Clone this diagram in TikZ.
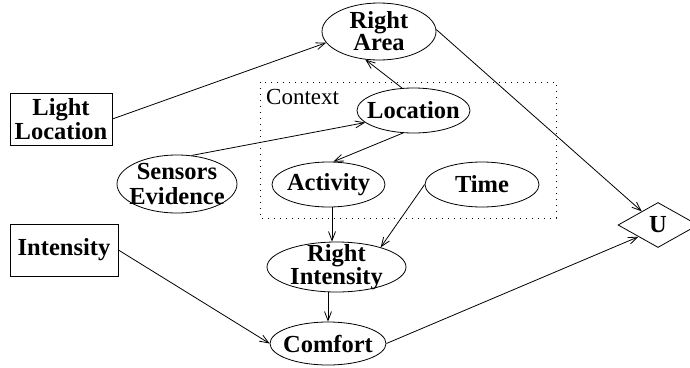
\documentclass[tikz,border=0pt]{standalone}
\usepackage{fontspec}
\setmainfont{Liberation Serif}
\usetikzlibrary{shapes.geometric,arrows.meta}
\begin{document}
\begin{tikzpicture}[x=1pt,y=-1pt,
  every node/.style={inner sep=0pt},
  ell/.style={draw, ellipse, line width=0.8pt},
  lbl/.style={font=\bfseries\fontsize{24.5}{#1}\selectfont, align=center},
  box/.style={draw, rectangle, line width=0.8pt, align=center, font=\bfseries\fontsize{24.5}{21}\selectfont},
  arr/.style={line width=0.8pt, -{Straight Barb[length=9pt,width=7pt]}},
  ctx/.style={line width=0.8pt, dash pattern=on 1pt off 5pt}]
\useasboundingbox (0,0) rectangle (690,367);
% context frame
\draw[ctx] (260,82) rectangle (556,218);
\node[anchor=base west, font=\fontsize{23}{23}\selectfont] (ctxlbl) at (266,104) {Context};
% nodes
\node[box, minimum width=102, minimum height=52] (LL) at (61,119) {Light\\Location};
\node[box, minimum width=108, minimum height=52] (Int) at (64,250) {Intensity};
\node[ell, minimum width=114, minimum height=57, label={[lbl=22]center:Right\\Area}] (RA) at (379,31.5) {};
\node[ell, minimum width=113, minimum height=45, label={[lbl=23]center:Location}] (Loc) at (413.5,110.5) {};
\node[ell, minimum width=120, minimum height=58, label={[lbl=25]center:Sensors\\Evidence}] (SE) at (177,184) {};
\node[ell, minimum width=113, minimum height=45, label={[lbl=23]center:Activity}] (Act) at (328.5,184.5) {};
\node[ell, minimum width=114, minimum height=45, label={[lbl=23]center:Time}] (Time) at (482,184.5) {};
\node[ell, minimum width=139, minimum height=50, label={[lbl=17]center:Right\\Intensity}] (RI) at (336.5,267) {};
\node[ell, minimum width=116, minimum height=43, label={[lbl=23]center:Comfort}] (Comf) at (328,343.5) {};
\node[draw, diamond, line width=0.8pt, minimum width=80, minimum height=45, font=\bfseries\fontsize{24.5}{23}\selectfont] (U) at (658,225) {U};
% edges
\draw[arr] (LL.east) -- (RA.192);
\draw[arr] (Loc.117) -- (RA.244);
\draw[arr] (SE.63) -- (Loc.194);
\draw[arr] (Loc.245) -- (Act.78);
\draw[arr] (RA.2) -- (U.140);
\draw[arr] ([xshift=3.5pt]Act.south) -- ([xshift=-4.5pt]RI.north);
\draw[arr] (Time.west) -- (RI.24);
\draw[arr] (RI.south -| Comf.north) -- (Comf.north);
\draw[arr] (Int.east) -- (Comf.west);
\draw[arr] (Comf.east) -- (U.211);
\end{tikzpicture}
\end{document}
